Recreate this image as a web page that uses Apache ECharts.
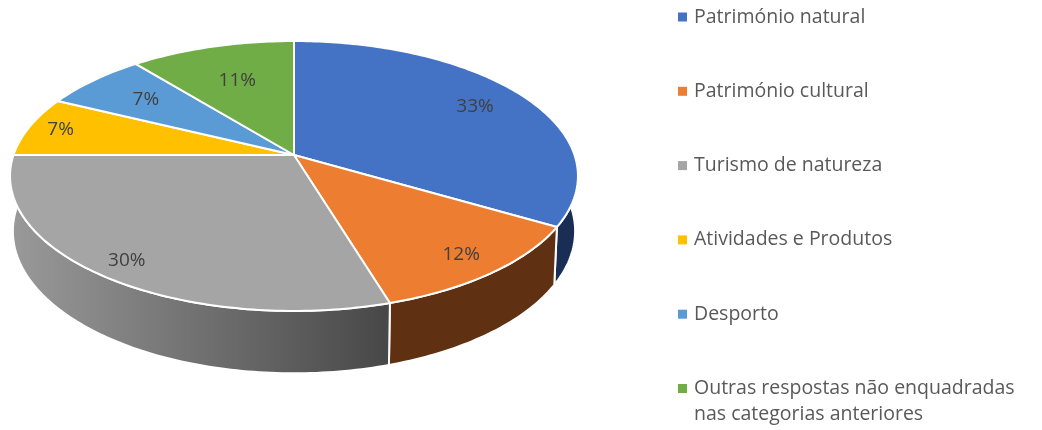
<!DOCTYPE html>
<html><head><meta charset="utf-8">
<style>html,body{margin:0;padding:0;background:#fff}#c{width:1042px;height:430px}</style>
<script src="https://cdn.jsdelivr.net/npm/echarts@6/dist/echarts.min.js"></script>
</head><body><div id="c"></div>
<script>
var categories = ['Património natural','Património cultural','Turismo de natureza','Atividades e Produtos','Desporto','Outras respostas não enquadradas'];
var legendContinuation = 'nas categorias anteriores';
var values = [33.4, 11.9, 29.7, 7.2, 6.9, 10.9];
var colors = ['#4472C4','#ED7D31','#A5A5A5','#FFC000','#5B9BD5','#70AD47'];
var wallColors = ['#1A2E55','#5F3112',null,'#7F6000','#2A4E6E','#375623'];
var labelRadii = [0.79,0.86,0.89,0.88,0.72,0.66];

var G = {cx:294, cy:155, R:280.5, b:131.7, k:0.1555, d:54, s:0.99};
var total = values.reduce(function(a,b){return a+b;},0);
function startAngle(i){var t=0;for(var j=0;j<i;j++)t+=values[j];return t/total*360;}
function P(r,deg,level){
  var a=deg*Math.PI/180,u=r*Math.sin(a),v=-r*Math.cos(a),w=1-G.k*v;
  var sc=level?G.s:1;
  return [G.cx+G.R*sc*u/w, G.cy+(G.b*sc*v+(level?G.d:0))/w];
}
function arc(a0,a1,level){
  var pts=[],n=Math.max(2,Math.ceil(Math.abs(a1-a0)));
  for(var i=0;i<=n;i++)pts.push(P(1,a0+(a1-a0)*i/n,level));
  return pts;
}
function renderTop(i){
  return function(){
    var a0=startAngle(i),a1=startAngle(i+1),mid=(a0+a1)/2;
    var pts=[[G.cx,G.cy]].concat(arc(a0,a1,0));
    var lp=P(labelRadii[i],mid,0);
    return {type:'group',children:[
      {type:'polygon',shape:{points:pts},style:{fill:colors[i],stroke:'#fff',lineWidth:2,lineJoin:'round'}},
      {type:'text',z2:10,x:lp[0],y:lp[1],style:{text:Math.round(values[i]/total*100)+'%',fill:'#404040',font:'19px "Open Sans"',align:'center',verticalAlign:'middle'}}
    ]};
  };
}
function renderWall(p){
  var i=p.dataIndex,a0=Math.max(startAngle(i),90),a1=Math.min(startAngle(i+1),270);
  if(a1<=a0)return {type:'group',children:[]};
  var top=arc(a0,a1,0),bot=arc(a0,a1,1).reverse();
  var fill=wallColors[i]||new echarts.graphic.LinearGradient(0,0,1,0,[{offset:0,color:'#9A9A9A'},{offset:1,color:'#474747'}]);
  return {type:'polygon',shape:{points:top.concat(bot)},style:{fill:fill,stroke:'#fff',lineWidth:2,lineJoin:'round'}};
}
var series=[{type:'custom',name:'wall',coordinateSystem:'none',silent:true,z:1,data:values,renderItem:renderWall,animation:false}];
categories.forEach(function(c,i){
  series.push({type:'custom',name:c,coordinateSystem:'none',silent:true,z:2,data:[values[i]],renderItem:renderTop(i),itemStyle:{color:colors[i]},animation:false});
});
var chart=echarts.init(document.getElementById('c'),null,{renderer:'canvas'});
chart.setOption({
  animation:false,
  legend:{orient:'vertical',left:678,top:5,data:categories,icon:'rect',itemWidth:9,itemHeight:9,itemGap:50.3,selectedMode:false,padding:0,
    textStyle:{color:'#595959',fontFamily:'Open Sans',fontSize:19.5,lineHeight:24,padding:[0,0,0,2]}},
  graphic:[{type:'text',left:694,top:404,style:{text:legendContinuation,fill:'#595959',font:'19.5px "Open Sans"'}}],
  series:series
});
</script></body></html>
